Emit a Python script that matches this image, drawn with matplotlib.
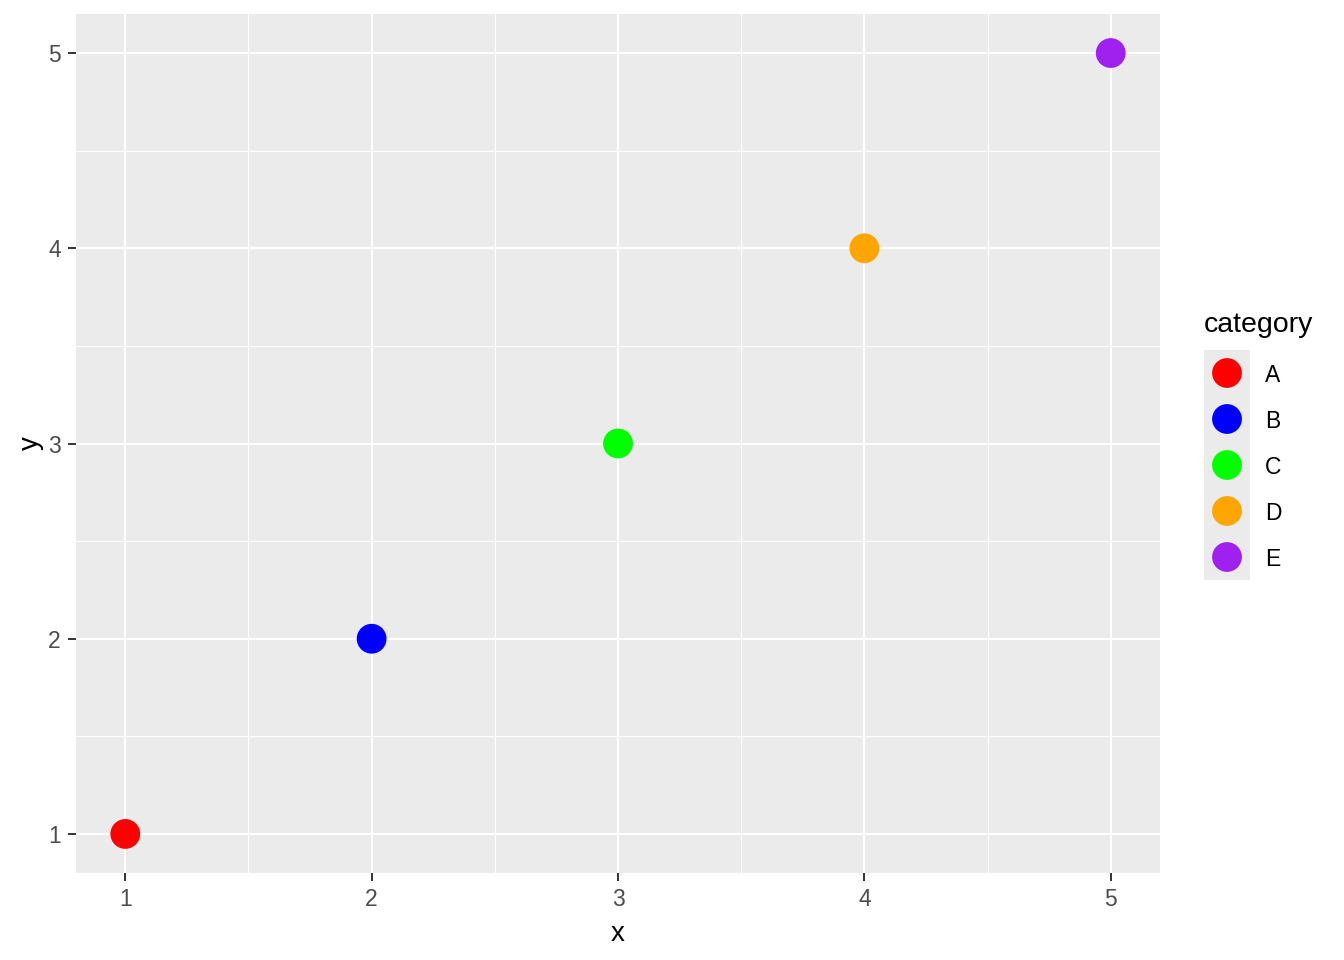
import matplotlib
matplotlib.use("Agg")
import matplotlib.pyplot as plt
import numpy as np

# data
categories = ["A", "B", "C", "D", "E"]
x_vals = [1, 2, 3, 4, 5]
y_vals = [1, 2, 3, 4, 5]
colours = ["#FF0000", "#0000FF", "#00FF00", "#FFA500", "#A020F0"]

plt.rcParams['font.family'] = ['Liberation Sans', 'DejaVu Sans']

W, H = 1344, 960
fig = plt.figure(figsize=(W / 100, H / 100), dpi=100)

def px_axes(l, t, r, b):
    return fig.add_axes([l / W, 1 - b / H, (r - l) / W, (b - t) / H])

ax = px_axes(76, 14, 1160, 873)
ax.set_facecolor("#EBEBEB")
for s in ax.spines.values():
    s.set_visible(False)

ax.scatter(x_vals, y_vals, c=colours, s=460, linewidths=0, zorder=3)

ax.set_xlim(0.8, 5.2)
ax.set_ylim(0.8, 5.2)
ax.set_xticks([1, 2, 3, 4, 5])
ax.set_yticks([1, 2, 3, 4, 5])
ax.set_xticks([1.5, 2.5, 3.5, 4.5], minor=True)
ax.set_yticks([1.5, 2.5, 3.5, 4.5], minor=True)
ax.grid(which="major", color="white", linewidth=1.5, zorder=0)
ax.grid(which="minor", color="white", linewidth=0.75, zorder=0)
ax.set_axisbelow(True)
ax.tick_params(which="major", length=5.5, width=1.4, color="#333333",
               labelsize=16.5, labelcolor="#4D4D4D", pad=5.5)
ax.tick_params(which="minor", length=0)

ax.set_xlabel("x", fontsize=20, labelpad=7)
ax.set_ylabel("y", fontsize=20, labelpad=3)

# legend drawn by hand (ggplot style keys)
lg = px_axes(1204, 350, 1250, 580)
lg.set_facecolor("#EBEBEB")
for s in lg.spines.values():
    s.set_visible(False)
lg.set_xlim(0, 1)
lg.set_ylim(len(categories), 0)
lg.set_xticks([])
lg.set_yticks([])
keys = np.arange(len(categories)) + 0.5
lg.scatter([0.5] * len(categories), keys, c=colours, s=460, linewidths=0, clip_on=False)
for k, lab in zip(keys, categories):
    lg.text(1.33, k + 0.06, lab, fontsize=16.5, va="center", ha="left", transform=lg.transData)
lg.text(0, -0.25, "category", fontsize=20.5, va="bottom", ha="left", transform=lg.transData)

fig.savefig("out.png", dpi=100)
